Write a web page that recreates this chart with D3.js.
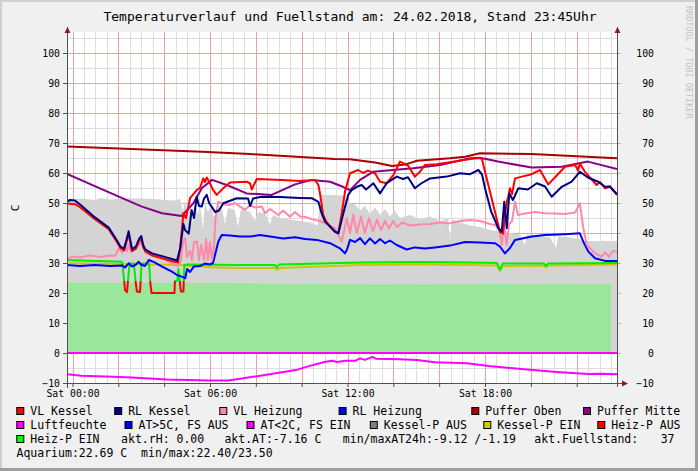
<!DOCTYPE html>
<html><head><meta charset="utf-8">
<script src="https://cdn.jsdelivr.net/npm/d3@7"></script>
<style>
body{margin:0;background:#f0f0f0;}
svg{display:block;font-family:"DejaVu Sans Mono",monospace;}
text{white-space:pre;}
</style></head><body>
<svg id="c" width="698" height="471"></svg>
<script>
// ---------------- DATA ----------------
const titleText = "Temperaturverlauf und Fuellstand am: 24.02.2018, Stand 23:45Uhr";
const yTicks = [-10,0,10,20,30,40,50,60,70,80,90,100];
const yLabel = "C";
const watermark = "RRDTOOL / TOBI OETIKER";
// times are hours of 24.02.2018
const pufferOben = [[-0.24,68.8],[5.65,67.1],[7.75,66.3],[11.45,64.7],[12.11,64.6],[13.2,63.5],[13.94,62.3],[14.51,62.8],[15.03,64.1],[16.47,64.9],[17.13,65.4],[17.78,66.6],[20.04,66.3],[23.76,64.9]];
const pufferMitte = [[-0.24,59.7],[2.02,52.1],[3.03,48.8],[3.91,46.6],[4.77,45.7],[5.27,49.9],[5.65,55],[6.09,57.7],[6.73,56],[7.60,53.2],[8.26,52.9],[8.69,52.7],[9.71,56.2],[10.44,57.7],[11.24,57.1],[11.80,55.4],[12.11,54.3],[12.55,57.7],[13.11,60.4],[14.86,61.6],[16.04,62.7],[17.35,64.9],[17.78,65.1],[18.57,63.8],[20.04,61.8],[21.35,62.1],[22.49,63.8],[23.76,61.3]];
const vlKessel = [[-0.24,49.8],[0.11,49.6],[0.33,48.6],[0.98,44.6],[1.58,41.3],[1.94,37],[2.09,35],[2.25,34.2],[2.33,36.3],[2.45,39.8],[2.51,37.3],[2.60,33.9],[2.77,34.8],[2.90,37.3],[3.00,38.2],[3.08,35.3],[3.18,33.8],[3.47,32.5],[3.95,31.5],[4.49,30.3],[4.60,30.2],[4.70,35],[4.84,46.6],[4.95,45],[5.13,51.6],[5.42,54.3],[5.56,55],[5.71,58.2],[5.78,57],[5.86,58.5],[6.00,56.5],[6.14,54.3],[6.29,52.7],[6.58,54.9],[6.87,56.8],[7.60,57.1],[7.75,56.5],[7.82,54.5],[8.04,58],[9.13,57.7],[9.93,57.3],[10.58,57.7],[10.73,56],[10.80,53.2],[10.94,46],[11.09,43.6],[11.45,40.4],[11.60,39.9],[11.75,46.6],[11.89,53.8],[12.11,59.9],[12.47,61],[12.68,60],[12.89,60.8],[13.20,59.9],[13.42,57.1],[13.71,56.6],[14.00,59.3],[14.29,63.8],[14.46,63.2],[14.64,62.5],[14.94,58.8],[15.16,60.4],[15.38,62.7],[15.89,62.9],[16.47,63.6],[17.35,64.7],[17.78,65],[17.87,64.5],[18.65,40.4],[18.78,39.8],[18.95,50.4],[19.01,52],[19.09,54.9],[19.18,53],[19.31,58.2],[19.61,58.8],[20.04,59.6],[20.40,61],[20.76,56.2],[21.05,58.5],[21.49,62.1],[21.93,62.7],[22.06,60.8],[22.14,63.2],[22.36,60.4],[22.87,56],[23.02,57],[23.24,54.9],[23.45,55.5],[23.76,52.7]];
const rlKessel = [[-0.24,50.5],[-0.11,51],[0.11,50.8],[0.33,49.5],[0.98,45.2],[1.58,41.8],[1.94,37.5],[2.09,35.5],[2.25,34.8],[2.33,37],[2.45,40.6],[2.51,38],[2.60,34.6],[2.77,35.5],[2.90,38],[3.00,39],[3.08,36],[3.18,34.5],[3.47,33.2],[3.95,32.2],[4.49,31],[4.56,30.8],[4.70,34.9],[4.84,43],[4.91,41],[5.07,39.8],[5.20,47.7],[5.30,45],[5.42,52.1],[5.52,49],[5.64,48.8],[5.74,51.5],[5.86,52.7],[5.96,50],[6.07,48.8],[6.22,47],[6.39,47.5],[6.58,49.9],[7.17,51.6],[7.66,51.5],[7.75,49],[7.88,51.5],[8.26,52.1],[9.05,52],[9.93,51.7],[10.44,51.6],[10.73,50.4],[10.87,46.6],[11.02,43.8],[11.45,40.5],[11.60,39.9],[11.82,46.6],[12.03,52.7],[12.18,54.3],[12.40,55.4],[12.62,56],[12.81,54.5],[13.13,56.6],[13.42,53.2],[13.71,56.6],[14.15,58.8],[14.42,58],[14.64,58.6],[14.94,54.9],[15.21,56.5],[15.60,58.2],[16.33,58.8],[16.91,59.9],[17.35,59.6],[17.71,61],[17.87,59.5],[18.00,54.9],[18.27,47.1],[18.58,41.6],[18.73,40.4],[18.84,50.4],[18.95,41.6],[19.06,53.2],[19.22,51],[19.45,54.9],[19.87,54.5],[20.26,56.6],[20.62,55.5],[20.91,52.1],[21.35,55.4],[21.78,57.1],[22.14,60.4],[22.49,58.5],[22.94,57.1],[23.24,55.4],[23.45,55.5],[23.76,52.9]];
const vlHeizung = [[-0.24,31.6],[0.11,32.2],[0.33,31.8],[0.76,32.5],[1.20,32],[1.64,32.5],[1.85,32.3],[2.02,34.9],[2.16,33.5],[2.29,35.5],[2.38,34],[2.45,36],[2.55,33.8],[2.73,35.5],[2.90,36],[3.03,37.7],[3.16,34.5],[3.33,33.8],[3.76,32.1],[4.34,29.9],[4.60,29],[4.73,31],[4.82,37],[4.92,38.2],[5.00,32],[5.13,34],[5.21,31],[5.30,37],[5.43,37.1],[5.52,31],[5.61,36],[5.74,31],[5.83,38],[5.91,31],[6.00,37],[6.09,31],[6.17,35],[6.24,45],[6.36,50.4],[6.65,49.5],[6.87,49.3],[7.09,50],[7.31,48.8],[7.53,47.7],[7.75,49.3],[7.96,48.5],[8.26,48.8],[8.40,46.6],[8.62,48],[8.98,46],[9.19,47.5],[9.49,45.4],[9.71,47],[9.93,45.5],[10.15,45.4],[10.36,44.8],[10.58,44.3],[10.80,44],[11.16,42.7],[11.45,41.6],[11.53,40.4],[11.75,37.1],[11.97,44.9],[12.11,40],[12.25,46],[12.41,40],[12.59,45.5],[12.76,40],[12.94,45],[13.11,40.5],[13.29,44.5],[13.46,41],[13.64,44],[13.81,41.5],[13.99,44],[14.16,42],[14.38,43.5],[14.73,42.5],[15.16,42.8],[15.60,43],[16.04,43.5],[16.47,43.2],[16.91,44],[17.35,44.3],[17.78,44],[18.22,43],[18.44,42.7],[18.61,41.5],[18.73,36],[18.83,42.8],[18.95,36],[19.05,43],[19.18,44],[19.31,50.4],[19.44,46],[19.74,46.5],[20.18,47],[20.62,46.6],[21.05,46.5],[21.49,46.3],[21.93,46.8],[22.14,49.9],[22.29,41.6],[22.44,36],[22.80,33.2],[23.09,32.1],[23.24,33.5],[23.41,32.1],[23.59,34],[23.76,33.8]];
const rlHeizung = [[-0.24,29.3],[0.33,29],[0.98,29.3],[1.64,29],[2.16,29.2],[2.29,28.5],[2.45,29.9],[2.60,28.8],[2.77,29.5],[2.89,30.4],[2.99,29.5],[3.16,29],[3.33,31],[3.56,30.3],[3.91,28.8],[4.34,27.1],[4.56,26],[4.82,25.3],[4.92,24.9],[5.00,28],[5.13,27],[5.29,28.8],[5.56,29],[5.78,29.8],[6.00,29.5],[6.13,30],[6.22,32.7],[6.36,37.1],[6.51,39.3],[6.87,39.2],[7.31,38.8],[7.75,38.8],[8.18,39.3],[8.62,38.8],[9.20,38.2],[9.71,38.6],[10.15,38],[10.66,37.7],[11.24,36.6],[11.67,34.9],[11.89,33.2],[11.98,34.5],[12.11,37.7],[12.33,37],[12.55,38.3],[12.76,36.3],[12.98,38.2],[13.20,36.5],[13.42,38],[13.64,36.6],[13.85,37.5],[14.15,36],[14.58,34.5],[14.94,35.2],[15.38,34.8],[15.82,35.2],[16.47,35.8],[17.13,37],[17.78,36.8],[18.44,36.6],[18.65,35.5],[18.87,33.2],[19.09,35],[19.31,37.7],[20.04,38.8],[20.62,39.3],[21.49,39.6],[22.14,39.9],[22.29,37.1],[22.51,33.8],[22.80,31.6],[23.24,30.7],[23.76,30.7]];
const heizPumpe = [[-0.24,31],[2.16,30.4],[2.23,26],[2.29,21],[2.38,20.3],[2.42,24],[2.49,29.8],[2.68,29.8],[2.75,24],[2.81,20.5],[2.95,20.3],[3.01,29.8],[3.34,29.8],[3.40,23],[3.45,20],[4.45,20],[4.47,24],[4.58,24.2],[4.62,28],[4.68,24],[4.73,20.5],[4.84,20.5],[4.88,29.3],[5.0,29.5],[7.31,29.3],[8.84,29.3],[8.92,28.5],[9.01,29.5],[10.80,29.8],[12.55,30.2],[15.16,30.3],[17.35,30.2],[18.52,30],[18.65,27.8],[18.78,29.8],[20.57,29.8],[20.66,29],[20.75,29.8],[23.76,30]];
const kesselPumpe = [[-0.24,29.9],[2.07,29.7],[4.69,29.3],[6.00,28.6],[7.31,28.3],[8.84,28.3],[8.92,27.8],[9.05,28.3],[10.80,28.8],[12.55,29.3],[15.16,29.5],[17.35,29.3],[18.52,29.2],[18.65,27.3],[18.78,29],[20.57,29.2],[20.66,28.5],[20.75,29.2],[23.76,29.5]];
const grauFlaeche = [[-0.24,51.3],[0.33,51.5],[0.98,51],[1.20,51.6],[1.64,51.2],[2.51,51.6],[3.38,51.4],[4.04,51],[4.47,50.8],[4.69,51.3],[4.82,47],[4.91,51],[5.04,45],[5.13,50.5],[5.26,43],[5.35,50],[5.48,46],[5.56,50],[5.69,41],[5.78,50.5],[5.91,47],[6.04,49.5],[6.17,45],[6.31,49],[6.52,48.5],[6.65,43],[6.79,48.5],[7.09,47.5],[7.22,42],[7.35,48],[7.75,47],[7.96,44],[8.09,47],[8.40,46.5],[8.62,43],[8.75,46],[9.05,45],[9.49,44.5],[9.93,44],[10.36,43.5],[10.71,42.5],[10.80,52.7],[11.24,52.7],[11.80,52.5],[12.02,50],[12.33,49.5],[12.55,47.5],[12.76,49],[12.98,46.5],[13.20,48.5],[13.42,46],[13.64,48],[13.85,45.5],[14.07,47.5],[14.29,45],[14.73,46],[15.16,44.5],[15.60,45.5],[16.04,44],[16.39,45],[16.47,38],[16.56,44.5],[16.91,43.5],[17.35,42.5],[17.78,42],[18.22,41],[18.65,40.5],[19.09,40],[19.53,39.5],[19.74,36],[19.83,39.5],[20.40,39],[20.84,38.5],[21.10,35],[21.19,38.8],[21.71,38.5],[22.14,38],[22.23,37.3],[23.02,37.3],[23.76,37.3]];
const fuellstand = [[-0.24,23.5],[3.4,23.4],[5.6,23.3],[10,23],[14.4,22.8],[18.6,23],[21.3,23.1],[23.5,23]];
const luftfeuchte = [[-0.24,0],[23.76,0]];
const aussenTemp = [[-0.24,-7.1],[0.39,-7.6],[1.79,-7.9],[2.57,-8.2],[4.12,-8.8],[6.00,-9.2],[6.79,-9.2],[7.25,-8.7],[8.81,-6.8],[9.74,-5.7],[10.36,-4.3],[10.99,-3],[11.32,-2.6],[11.54,-3],[11.92,-2.6],[12.33,-2.6],[12.55,-1.8],[12.76,-2.3],[13.09,-1.3],[13.24,-1.9],[14.26,-2.1],[15.03,-2.3],[15.82,-3.1],[17.21,-3.4],[18.16,-4.3],[19.70,-5.4],[21.27,-6.4],[22.52,-7],[23.02,-6.9],[23.76,-7.1]];
const legendRows = [
  [["VL Kessel","#ff0000"],["RL Kessel","#000080"],["VL Heizung","#ff88aa"],["RL Heizung","#0000ff"],["Puffer Oben","#aa0000"],["Puffer Mitte","#880088"]],
  [["Luftfeuchte","#ff00ff"],["AT>5C, FS AUS","#0000ff"],["AT<2C, FS EIN","#ff00ff"],["Kessel-P AUS","#808080"],["Kessel-P EIN","#cccc00"],["Heiz-P AUS","#ff0000"]],
  [["Heiz-P EIN","#00ff00"],["akt.rH: 0.00",null],["akt.AT:-7.16 C",null],["min/maxAT24h:-9.12 /-1.19",null],["akt.Fuellstand:",null],["37",null]],
  [["Aquarium:22.69 C  min/max:22.40/23.50",null]]
];

// ---------------- LAYOUT ----------------
const L=67,R=617,T=32,B=383;
const legendX = [[30.3,128.2,233.3,352.6,485.3,597],[30.3,138.5,260.5,383.8,497.3,611.3],[30.3,121.1,224.4,342.8,534.3,660.7],[16.5]];
const legendBase = [415,429,443,457.3];

const svg = d3.select("#c");
svg.append("rect").attr("width",698).attr("height",471).attr("fill","#f0f0f0");
svg.append("rect").attr("x",0).attr("y",0).attr("width",698).attr("height",2).attr("fill","#cfcfcf");
svg.append("rect").attr("x",0).attr("y",0).attr("width",2).attr("height",471).attr("fill","#cfcfcf");
svg.append("rect").attr("x",695).attr("y",0).attr("width",3).attr("height",471).attr("fill","#9e9e9e");
svg.append("rect").attr("x",0).attr("y",468).attr("width",698).attr("height",3).attr("fill","#9e9e9e");

const t0 = new Date(2018,1,24,0,0,0);
const toDate = h => new Date(t0.getTime()+h*3600000);
const x = d3.scaleTime().domain([toDate(-0.24), toDate(23.76)]).range([L,R]);
const y = d3.scaleLinear().domain([-10,107]).range([B,T]);

svg.append("rect").attr("x",L).attr("y",T).attr("width",R-L).attr("height",B-T).attr("fill","#ffffff");

// grid (positions from the scales' own tick generators)
const px = v => Math.round(v)+0.5;
const grid = svg.append("g");
grid.selectAll(".vmin").data(x.ticks(d3.timeMinute.every(30))).join("line")
  .attr("x1",d=>px(x(d))).attr("x2",d=>px(x(d))).attr("y1",T).attr("y2",B).attr("stroke","#dedede");
grid.selectAll(".hmin").data(d3.range(-5,107,10)).join("line")
  .attr("x1",L).attr("x2",R).attr("y1",d=>px(y(d))).attr("y2",d=>px(y(d))).attr("stroke","#dedede");
grid.selectAll(".vmaj").data(x.ticks(d3.timeHour.every(2))).join("line")
  .attr("x1",d=>px(x(d))).attr("x2",d=>px(x(d))).attr("y1",T).attr("y2",B).attr("stroke","#f0a0a0");
grid.selectAll(".hmaj").data(yTicks).join("line")
  .attr("x1",L).attr("x2",R+4).attr("y1",d=>px(y(d))).attr("y2",d=>px(y(d))).attr("stroke","#f0a0a0");

// clip
const defs = svg.append("defs");
defs.append("clipPath").attr("id","plot").append("rect").attr("x",L).attr("y",T).attr("width",R-L).attr("height",B-T);
const thr = y(24);
defs.append("clipPath").attr("id","upper").append("rect").attr("x",L).attr("y",T).attr("width",R-L).attr("height",thr-T);
defs.append("clipPath").attr("id","lower").append("rect").attr("x",L).attr("y",thr).attr("width",R-L).attr("height",B-thr);

const plot = svg.append("g").attr("clip-path","url(#plot)");
const line = d3.line().x(d=>x(toDate(d[0]))).y(d=>y(d[1]));
const area = d3.area().x(d=>x(toDate(d[0]))).y0(y(0)).y1(d=>y(d[1]));

plot.append("path").attr("d",area(grauFlaeche)).attr("fill","#d4d4d4");
plot.append("path").attr("d",area(fuellstand)).attr("fill","#9ae69a");

function drawLine(g,data,color){
  g.append("path").attr("d",line(data)).attr("fill","none").attr("stroke",color)
   .attr("stroke-width",2).attr("stroke-linejoin","round");
}
drawLine(plot,luftfeuchte,"#ff00ff");
drawLine(plot,aussenTemp,"#ff00ff");
drawLine(plot,kesselPumpe,"#c8c800");
drawLine(plot.append("g").attr("clip-path","url(#lower)"),heizPumpe,"#ff0000");
drawLine(plot.append("g").attr("clip-path","url(#upper)"),heizPumpe,"#00ee00");
drawLine(plot,rlHeizung,"#0000ff");
drawLine(plot,vlHeizung,"#ff88aa");
drawLine(plot,pufferOben,"#aa0000");
drawLine(plot,pufferMitte,"#880088");
drawLine(plot,vlKessel,"#ff0000");
drawLine(plot,rlKessel,"#000080");

// axes
const axisCol = "#505050";
svg.append("line").attr("x1",L+0.5).attr("x2",L+0.5).attr("y1",27).attr("y2",388).attr("stroke",axisCol);
svg.append("line").attr("x1",R+0.5).attr("x2",R+0.5).attr("y1",27).attr("y2",387).attr("stroke",axisCol);
svg.append("line").attr("x1",63).attr("x2",623).attr("y1",B+0.5).attr("y2",B+0.5).attr("stroke",axisCol);
const tickL = svg.append("g").attr("transform",`translate(${L},0)`)
  .call(d3.axisLeft(y).tickValues(yTicks).tickSize(4).tickPadding(3).tickFormat(d3.format("d")));
tickL.select(".domain").remove();
tickL.selectAll("line").attr("stroke",axisCol);
tickL.selectAll("text").attr("font-family","DejaVu Sans Mono").attr("font-size","9.8px").attr("fill","#000");
const tickR = svg.append("g").attr("transform",`translate(654,0)`)
  .call(d3.axisLeft(y).tickValues(yTicks).tickSize(0).tickPadding(0).tickFormat(d3.format("d")));
tickR.select(".domain").remove();
tickR.selectAll("text").attr("font-family","DejaVu Sans Mono").attr("font-size","9.8px").attr("fill","#000");
const tickB = svg.append("g").attr("transform",`translate(0,${B})`)
  .call(d3.axisBottom(x).ticks(d3.timeHour.every(2)).tickSize(4).tickFormat(""));
tickB.select(".domain").remove();
tickB.selectAll("line").attr("stroke",axisCol);
const labB = svg.append("g").attr("transform",`translate(0,${B})`)
  .call(d3.axisBottom(x).ticks(d3.timeHour.every(6)).tickSize(0).tickPadding(7).tickFormat(d3.timeFormat("%a %H:%M")));
labB.select(".domain").remove();
labB.selectAll("text").attr("font-family","DejaVu Sans Mono").attr("font-size","9.8px").attr("fill","#000");

// arrows
const arrowCol = "#8b1a1a";
[[L+0.5,27],[R+0.5,27]].forEach(([ax,ay])=>{
  svg.append("path").attr("d",`M${ax-3},${ay+6}L${ax},${ay}L${ax+3},${ay+6}Z`).attr("fill",arrowCol);
});
svg.append("path").attr("d",`M${622},${B-2.5}L${628},${B+0.5}L${622},${B+3.5}Z`).attr("fill",arrowCol);

// title
svg.append("text").attr("x",350).attr("y",21).attr("text-anchor","middle")
  .attr("font-size","13px").attr("fill","#000").text(titleText);
// y label
svg.append("text").attr("transform","translate(19,208) rotate(-90)").attr("text-anchor","middle")
  .attr("font-size","11px").attr("fill","#000").text(yLabel);
// watermark
svg.append("text").attr("transform","translate(686,6) rotate(90)")
  .attr("font-size","8.5px").attr("fill","#c4c4c4").text(watermark);

// legend
legendRows.forEach((row,ri)=>{
  row.forEach((item,ii)=>{
    const tx = legendX[ri][ii];
    if(item[1]){
      svg.append("rect").attr("x",tx-13.5).attr("y",legendBase[ri]-7.5).attr("width",7).attr("height",7)
        .attr("fill",item[1]).attr("stroke","#000").attr("stroke-width",1);
    }
    svg.append("text").attr("x",tx).attr("y",legendBase[ri]).attr("font-size","11.5px").attr("fill","#000").text(item[0]);
  });
});
</script></body></html>
